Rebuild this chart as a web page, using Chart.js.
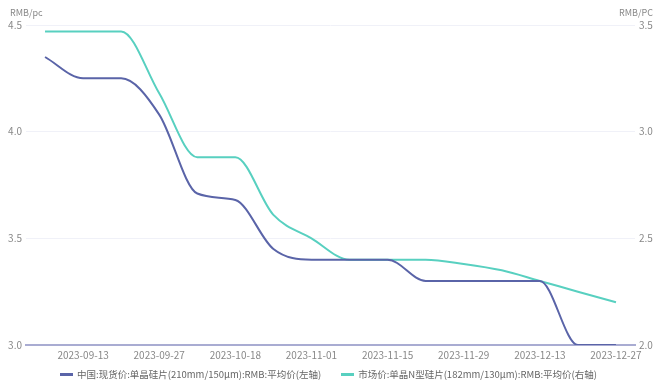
<!DOCTYPE html>
<html>
<head>
<meta charset="utf-8">
<script src="https://cdn.jsdelivr.net/npm/chart.js@4"></script>
<style>
  html, body { margin: 0; padding: 0; background: #fff; }
  #wrap { width: 657px; height: 382px; position: relative; }
  #legend {
    position: absolute; left: 0; top: 366px; width: 657px; height: 16px;
    display: flex; justify-content: center; align-items: center;
    font: 9.5px 'Noto Sans CJK SC', 'Noto Sans', sans-serif; color: #666;
  }
  .item { display: flex; align-items: center; margin: 0 10px; white-space: nowrap; }
  .swatch { width: 13px; height: 3px; margin-right: 4px; }
</style>
</head>
<body>
<div id="wrap">
  <canvas id="chart"></canvas>
  <div id="legend"></div>
</div>
<script>
// weekly dates (category axis, holiday week skipped)
const dates = ['2023-09-06', '2023-09-13', '2023-09-20', '2023-09-27', '2023-10-11', '2023-10-18',
    '2023-10-25', '2023-11-01', '2023-11-08', '2023-11-15', '2023-11-22', '2023-11-29',
    '2023-12-06', '2023-12-13', '2023-12-20', '2023-12-27'];

// left axis series
const spotPrice = [4.35, 4.25, 4.25, 4.08, 3.71, 3.68, 3.45, 3.40, 3.40, 3.40, 3.30, 3.30, 3.30, 3.30, 3.00, 3.00];
// right axis series
const marketPrice = [3.47, 3.47, 3.47, 3.18, 2.88, 2.88, 2.61, 2.50, 2.40, 2.40, 2.40, 2.38, 2.35, 2.30, 2.25, 2.20];

const leftTicks = [3.0, 3.5, 4.0, 4.5];
const rightTicks = [2.0, 2.5, 3.0, 3.5];

const spotLabel = '中国:现货价:单晶硅片(210mm/150μm):RMB:平均价(左轴)';
const marketLabel = '市场价:单晶N型硅片(182mm/130μm):RMB:平均价(右轴)';

const FONT = "'Noto Sans CJK SC', 'Noto Sans', sans-serif";
const SPOT_COLOR = '#5a64a8';
const MARKET_COLOR = '#58d0c0';

// unit titles above both y axes
const unitTitles = {
    id: 'unitTitles',
    afterDraw(chart) {
        const { ctx, chartArea } = chart;
        ctx.save();
        ctx.font = '9px ' + FONT;
        ctx.fillStyle = '#888';
        ctx.textBaseline = 'middle';
        ctx.textAlign = 'left';
        ctx.fillText('RMB/pc', 10, chartArea.top - 12);
        ctx.textAlign = 'right';
        ctx.fillText('RMB/PC', 653, chartArea.top - 12);
        ctx.restore();
    }
};

const chart = new Chart(document.getElementById('chart'), {
    type: 'line',
    data: {
        labels: dates,
        datasets: [{
            label: spotLabel,
            data: spotPrice,
            yAxisID: 'y',
            borderColor: SPOT_COLOR,
            backgroundColor: SPOT_COLOR,
            borderWidth: 2,
            pointRadius: 0,
            cubicInterpolationMode: 'monotone'
        }, {
            label: marketLabel,
            data: marketPrice,
            yAxisID: 'y1',
            borderColor: MARKET_COLOR,
            backgroundColor: MARKET_COLOR,
            borderWidth: 2,
            pointRadius: 0,
            cubicInterpolationMode: 'monotone'
        }]
    },
    options: {
        responsive: true,
        maintainAspectRatio: false,
        animation: false,
        layout: { padding: { top: 25, left: 0, right: 0, bottom: 17 } },
        plugins: {
            tooltip: { enabled: false },
            legend: { display: false }
        },
        scales: {
            x: {
                offset: true,
                grid: { display: false, drawTicks: false },
                border: { color: '#a9acd2', width: 2 },
                ticks: {
                    autoSkip: false,
                    maxRotation: 0,
                    color: '#888',
                    padding: 4,
                    font: { family: FONT, size: 10 },
                    callback: (v, i) => (i % 2 === 1 ? dates[i] : '')
                }
            },
            y: {
                position: 'left',
                min: 3.0,
                max: 4.5,
                afterBuildTicks: axis => { axis.ticks = leftTicks.map(v => ({ value: v })); },
                afterFit: axis => { axis.width = 26; },
                grid: { color: '#f0f1f8', drawTicks: false },
                border: { display: false },
                ticks: {
                    color: '#888',
                    padding: 4,
                    font: { family: FONT, size: 10 },
                    callback: v => v.toFixed(1)
                }
            },
            y1: {
                position: 'right',
                min: 2.0,
                max: 3.5,
                afterBuildTicks: axis => { axis.ticks = rightTicks.map(v => ({ value: v })); },
                afterFit: axis => { axis.width = 22; },
                grid: { display: false, drawTicks: false },
                border: { display: false },
                ticks: {
                    color: '#888',
                    padding: 4,
                    font: { family: FONT, size: 10 },
                    callback: v => v.toFixed(1)
                }
            }
        }
    },
    plugins: [unitTitles]
});

// html legend below the chart
const legend = document.getElementById('legend');
chart.data.datasets.forEach(ds => {
    const item = document.createElement('div');
    item.className = 'item';
    item.innerHTML = `<span class="swatch" style="background:${ds.borderColor}"></span><span>${ds.label}</span>`;
    legend.appendChild(item);
});
</script>
</body>
</html>
